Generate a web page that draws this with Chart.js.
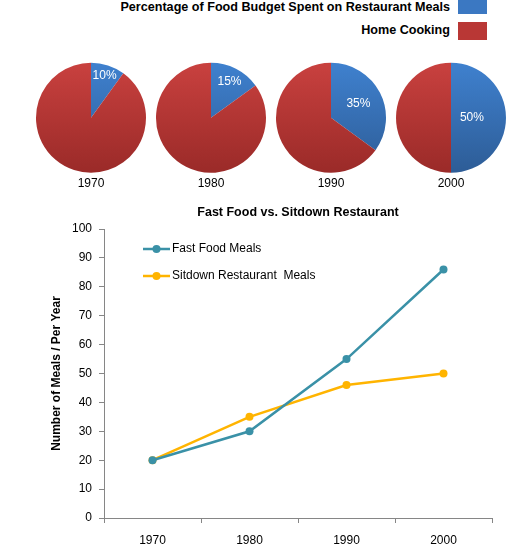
<!DOCTYPE html>
<html>
<head>
<meta charset="utf-8">
<script src="https://cdn.jsdelivr.net/npm/chart.js@4.4.1/dist/chart.umd.min.js"></script>
<style>
  body { margin: 0; background: #fff; }
  #page { position: relative; width: 520px; height: 551px; overflow: hidden; font-family: "Liberation Sans", Arial, sans-serif; }
  .key { position: absolute; right: 70px; font-weight: bold; font-size: 12.6px; line-height: 14px; color: #000; white-space: nowrap; }
  .swatch { position: absolute; left: 458px; width: 29px; }
  canvas { position: absolute; }
</style>
</head>
<body>
<div id="page">
  <div class="key" style="top:0px">Percentage of Food Budget Spent on Restaurant Meals</div>
  <div class="swatch" style="top:0px;height:14px;background:#3b78c2"></div>
  <div class="key" style="top:23px">Home Cooking</div>
  <div class="swatch" style="top:22px;height:18px;background:#b93735"></div>
  <canvas id="pie0" width="120" height="140" style="left:31px;top:58px"></canvas>
  <canvas id="pie1" width="120" height="140" style="left:151px;top:58px"></canvas>
  <canvas id="pie2" width="120" height="140" style="left:271px;top:58px"></canvas>
  <canvas id="pie3" width="120" height="140" style="left:391px;top:58px"></canvas>
  <canvas id="lineChart" width="520" height="356" style="left:0px;top:195px"></canvas>
</div>
<script>
"use strict";
// pie data: share of food budget
const pieYears = ["1970", "1980", "1990", "2000"];
const restaurantShare = [10, 15, 35, 50];
const homeShare = [90, 85, 65, 50];
// line data: meals per year
const lineYears = ["1970", "1980", "1990", "2000"];
const fastFoodMeals = [20, 30, 55, 86];
const sitdownMeals = [20, 35, 46, 50];
// where the % label sits inside each blue slice (fraction of radius)
const labelRadius = [0.8, 0.74, 0.56, 0.38];

Chart.defaults.font.family = "'Liberation Sans', Arial, sans-serif";
Chart.defaults.color = "#000";

function vGrad(chart, top, bottom) {
    const area = chart.chartArea;
    if (!area) return top;
    const g = chart.ctx.createLinearGradient(0, area.top, 0, area.bottom);
    g.addColorStop(0, top);
    g.addColorStop(1, bottom);
    return g;
}

function sliceColor(c) {
    if (c.dataIndex === 0) return vGrad(c.chart, "#3f81cf", "#2d5c96");
    return vGrad(c.chart, "#c9413f", "#9a2a28");
}

const sliceLabel = {
    id: "sliceLabel",
    afterDatasetsDraw(chart, args, opts) {
        const arc = chart.getDatasetMeta(0).data[0];
        const p = arc.getProps(["x", "y", "startAngle", "endAngle", "outerRadius"], true);
        const mid = (p.startAngle + p.endAngle) / 2;
        const r = p.outerRadius * opts.radius;
        const ctx = chart.ctx;
        ctx.save();
        ctx.fillStyle = "#fff";
        ctx.font = "12px 'Liberation Sans', Arial, sans-serif";
        ctx.textAlign = "center";
        ctx.textBaseline = "middle";
        ctx.fillText(chart.data.datasets[0].data[0] + "%", p.x + Math.cos(mid) * r, p.y + Math.sin(mid) * r);
        ctx.restore();
    }
};

for (let i = 0; i < pieYears.length; i++) {
    new Chart(document.getElementById("pie" + i), {
        type: "pie",
        data: {
            labels: ["Percentage of Food Budget Spent on Restaurant Meals", "Home Cooking"],
            datasets: [{
                data: [restaurantShare[i], homeShare[i]],
                backgroundColor: sliceColor,
                borderWidth: 0
            }]
        },
        options: {
            responsive: false,
            animation: false,
            layout: { padding: { top: 4, left: 5, right: 5, bottom: 0 } },
            plugins: {
                legend: { display: false },
                tooltip: { enabled: false },
                title: {
                    display: true,
                    position: "bottom",
                    text: pieYears[i],
                    font: { size: 12, weight: "normal" },
                    padding: { top: 3, bottom: 7 }
                },
                sliceLabel: { radius: labelRadius[i] }
            }
        },
        plugins: [sliceLabel]
    });
}

const innerLegend = {
    id: "innerLegend",
    afterDraw(chart) {
        const ctx = chart.ctx;
        const a = chart.chartArea;
        ctx.save();
        ctx.font = "12px 'Liberation Sans', Arial, sans-serif";
        ctx.textBaseline = "middle";
        chart.data.datasets.forEach((ds, k) => {
            const y = a.top + 20 + k * 27;
            const x = a.left + 39;
            ctx.strokeStyle = ds.borderColor;
            ctx.lineWidth = 2.5;
            ctx.beginPath();
            ctx.moveTo(x, y);
            ctx.lineTo(x + 27, y);
            ctx.stroke();
            ctx.fillStyle = ds.borderColor;
            ctx.beginPath();
            ctx.arc(x + 13.5, y, 4, 0, Math.PI * 2);
            ctx.fill();
            ctx.fillStyle = "#000";
            ctx.fillText(ds.label, x + 29, y);
        });
        ctx.restore();
    }
};

new Chart(document.getElementById("lineChart"), {
    type: "line",
    data: {
        labels: lineYears,
        datasets: [{
            label: "Fast Food Meals",
            data: fastFoodMeals,
            borderColor: "#3a91a7",
            backgroundColor: "#3a91a7",
            borderWidth: 2.5,
            pointRadius: 4,
            pointBorderWidth: 0,
            tension: 0
        }, {
            label: "Sitdown Restaurant  Meals",
            data: sitdownMeals,
            borderColor: "#ffb400",
            backgroundColor: "#ffb400",
            borderWidth: 2.5,
            pointRadius: 4,
            pointBorderWidth: 0,
            tension: 0
        }]
    },
    options: {
        responsive: false,
        animation: false,
        layout: { padding: { left: 0, right: 28, top: 0, bottom: 0 } },
        plugins: {
            legend: { display: false },
            tooltip: { enabled: false },
            title: {
                display: true,
                fullSize: false,
                text: "Fast Food vs. Sitdown Restaurant",
                font: { size: 12.5, weight: "bold" },
                padding: { top: 10, bottom: 9 }
            }
        },
        scales: {
            x: {
                offset: true,
                grid: { offset: true, drawOnChartArea: false, tickLength: 5, color: "#868686" },
                border: { color: "#868686" },
                ticks: { font: { size: 12 }, padding: 10 },
                afterFit: (s) => { s.height = 33; }
            },
            y: {
                min: 0,
                max: 100,
                ticks: { stepSize: 10, font: { size: 12 }, padding: 7 },
                grid: { drawOnChartArea: false, tickLength: 5, color: "#868686" },
                border: { color: "#868686" },
                title: {
                    display: true,
                    text: "Number of Meals / Per Year",
                    font: { size: 12, weight: "bold" },
                    padding: { top: 49, bottom: 0 }
                },
                afterFit: (s) => { s.width = 104; }
            }
        }
    },
    plugins: [innerLegend]
});
</script>
</body>
</html>
